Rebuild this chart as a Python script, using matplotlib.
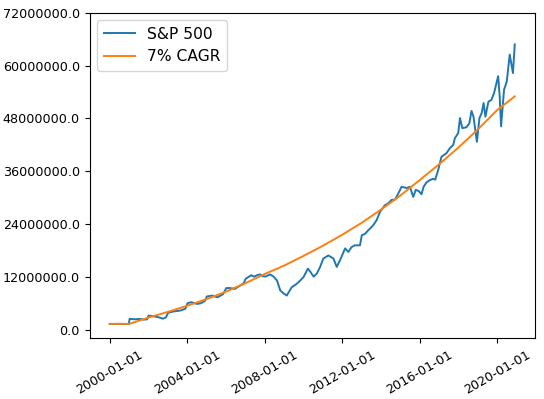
import numpy as np
import pandas as pd
import matplotlib
matplotlib.use("Agg")
import matplotlib.pyplot as plt
import matplotlib.dates as mdates
from matplotlib.ticker import FormatStrFormatter

# S&P 500 portfolio value (millions)
sp500_dates = [
    "1999-12-31", "2000-04-01", "2000-07-01", "2000-10-01", "2000-12-25",
    "2001-01-08", "2001-04-20", "2001-07-20", "2001-10-01", "2001-12-05",
    "2002-01-01", "2002-04-01", "2002-07-01", "2002-10-01", "2002-11-25",
    "2003-01-05", "2003-04-20", "2003-08-25", "2003-11-25",
    "2004-01-05", "2004-03-15", "2004-07-01", "2004-09-15", "2004-12-01",
    "2005-01-05", "2005-04-20", "2005-07-20", "2005-11-05",
    "2006-01-05", "2006-03-15", "2006-06-15", "2006-09-15", "2006-12-01",
    "2007-01-05", "2007-04-20", "2007-06-15", "2007-08-25", "2007-10-10", "2007-11-25",
    "2008-01-10", "2008-04-10", "2008-06-15", "2008-08-20", "2008-10-20", "2008-12-20",
    "2009-02-20", "2009-03-25", "2009-05-25", "2009-08-30", "2009-10-30",
    "2010-01-01", "2010-03-25", "2010-05-10", "2010-07-10", "2010-09-10", "2010-11-10",
    "2011-01-10", "2011-04-15", "2011-07-20", "2011-09-20", "2011-11-20",
    "2012-02-25", "2012-04-25", "2012-06-25", "2012-08-25", "2012-12-01",
    "2013-01-05", "2013-03-05", "2013-05-05", "2013-07-10", "2013-08-10", "2013-10-10", "2013-12-15",
    "2014-03-15", "2014-05-15", "2014-07-20", "2014-09-25", "2014-11-25",
    "2015-01-25", "2015-05-01", "2015-07-01", "2015-09-01", "2015-10-20", "2015-12-15",
    "2016-02-05", "2016-03-15", "2016-05-10", "2016-07-10", "2016-09-10", "2016-10-20", "2016-12-15",
    "2017-02-15", "2017-05-20", "2017-07-20", "2017-09-25", "2017-10-25", "2017-12-28",
    "2018-01-30", "2018-03-15", "2018-06-01", "2018-07-25", "2018-09-05", "2018-10-12", "2018-12-15",
    "2019-02-01", "2019-03-15", "2019-04-20", "2019-05-25", "2019-07-20", "2019-09-15", "2019-11-05",
    "2020-01-20", "2020-02-18", "2020-03-15", "2020-05-10", "2020-07-01", "2020-08-25",
    "2020-10-25", "2020-11-28",
]
sp500_values = [
    1.37, 1.35, 1.38, 1.33, 1.36,
    2.5, 2.42, 2.5, 2.35, 2.4,
    3.25, 3.1, 2.9, 2.55, 2.85,
    3.9, 4.2, 4.4, 4.8,
    6.06, 6.3, 5.9, 6.06, 6.6,
    7.6, 7.8, 7.4, 8.1,
    9.5, 9.5, 9.3, 10.0, 10.6,
    11.6, 12.4, 12.1, 12.5, 12.6, 12.2,
    12.1, 12.6, 12.1, 11.2, 8.95, 8.3,
    7.8, 8.5, 9.7, 10.5, 11.2,
    12.0, 13.9, 13.2, 12.1, 12.8, 14.3,
    16.2, 16.9, 16.2, 14.3, 15.8,
    18.5, 17.7, 18.8, 19.2, 19.2,
    21.5, 21.8, 22.6, 23.4, 23.8, 24.9, 26.8,
    28.3, 28.7, 29.5, 29.6, 31.0,
    32.5, 32.2, 32.5, 30.2, 31.8, 31.5,
    30.8, 32.5, 33.5, 34.0, 34.3, 34.1, 36.3,
    39.3, 40.1, 41.2, 42.0, 43.5, 44.7,
    48.1, 45.8, 46.0, 46.9, 49.7, 48.4, 42.7,
    48.1, 49.2, 51.5, 48.4, 51.8, 52.2, 53.8,
    57.6, 53.0, 46.2, 54.5, 56.4, 62.5,
    58.3, 64.8,
]

# 7% CAGR reference path (millions)
cagr_dates = [
    "1999-12-31", "2001-01-01", "2002-01-01", "2003-01-01", "2004-01-01",
    "2005-01-01", "2006-01-01", "2007-01-01", "2008-01-01", "2009-01-01",
    "2010-01-01", "2011-01-01", "2012-01-01", "2013-01-01", "2014-01-01",
    "2015-01-01", "2016-01-01", "2017-01-01", "2018-01-01", "2019-01-01",
    "2020-01-01", "2020-11-28",
]
cagr_values = [
    1.37, 1.37, 2.8, 4.1, 5.5,
    7.0, 8.7, 10.6, 12.7, 14.6,
    16.8, 19.1, 21.6, 24.3, 27.3,
    30.5, 34.0, 37.6, 41.4, 45.5,
    49.9, 53.0,
]

sp_x = pd.to_datetime(sp500_dates)
sp_y = np.array(sp500_values) * 1e6
cg_x = pd.to_datetime(cagr_dates)
cg_y = np.array(cagr_values) * 1e6

fig = plt.figure(figsize=(5.44, 3.99), dpi=100)
ax = fig.add_axes([89.5 / 544, 1 - 338.3 / 399, (535 - 89.5) / 544, (338.3 - 12.7) / 399])

ax.plot(sp_x, sp_y, color="tab:blue", lw=1.4, label="S&P 500")
ax.plot(cg_x, cg_y, color="tab:orange", lw=1.4, label="7% CAGR")

ax.set_yticks(np.arange(0, 72e6 + 1, 12e6))
ax.set_ylim(-1.9e6, 72e6)
ax.yaxis.set_major_formatter(FormatStrFormatter("%.1f"))

ax.xaxis.set_major_locator(mdates.YearLocator(4))
ax.xaxis.set_major_formatter(mdates.DateFormatter("%Y-%m-%d"))
plt.setp(ax.get_xticklabels(), rotation=30, ha="center")
ax.tick_params(labelsize=9.2)

ax.legend(loc="upper left", fontsize=11.2)

fig.savefig("out.png", dpi=100)
